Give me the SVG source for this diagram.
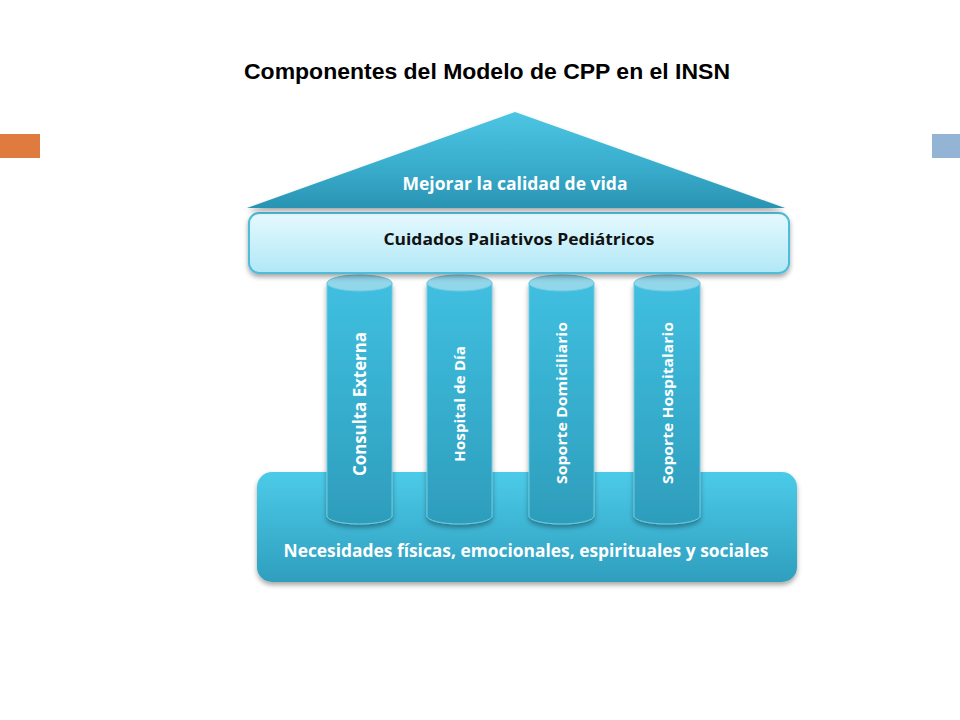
<svg xmlns="http://www.w3.org/2000/svg" width="960" height="720" viewBox="0 0 960 720">
<defs>
<linearGradient id="roofG" x1="0" y1="0" x2="0" y2="1">
<stop offset="0" stop-color="#4cc6e3"/><stop offset="0.6" stop-color="#38abcb"/><stop offset="1" stop-color="#2a93b2"/>
</linearGradient>
<linearGradient id="bandG" x1="0" y1="0" x2="0" y2="1">
<stop offset="0" stop-color="#e6f9fe"/><stop offset="1" stop-color="#b0e8f6"/>
</linearGradient>
<linearGradient id="pillG" x1="0" y1="0" x2="0" y2="1">
<stop offset="0" stop-color="#40bfe0"/><stop offset="1" stop-color="#2e9dbc"/>
</linearGradient>
<linearGradient id="baseG" x1="0" y1="0" x2="0" y2="1">
<stop offset="0" stop-color="#4ccbe9"/><stop offset="1" stop-color="#2f9ebe"/>
</linearGradient>
<filter id="sh" x="-10%" y="-10%" width="120%" height="130%">
<feDropShadow dx="0" dy="3" stdDeviation="2.5" flood-color="#000" flood-opacity="0.35"/>
</filter>
</defs>
<style>
.t{font-family:"Liberation Sans",Arial,sans-serif;font-weight:bold;}
.w{font-family:"Open Sans","Liberation Sans",sans-serif;font-weight:bold;fill:#ffffff;}
.k{font-family:"Open Sans","Liberation Sans",sans-serif;font-weight:bold;fill:#111111;}
.pill{fill:url(#pillG);stroke:#6fcbe2;stroke-width:1;}
.cap{fill:#92d6ea;stroke:#6fcbe2;stroke-width:1;}
</style>
<rect width="960" height="720" fill="#ffffff"/>
<rect x="0" y="134" width="40" height="24" fill="#e07b40"/>
<rect x="932" y="134" width="28" height="24" fill="#93b4d4"/>
<text class="t" x="487" y="79" font-size="22.5" text-anchor="middle" fill="#000" textLength="486" lengthAdjust="spacingAndGlyphs">Componentes del Modelo de CPP en el INSN</text>

<g id="base">
<rect x="257" y="472" width="540" height="110" rx="15" fill="url(#baseG)" filter="url(#sh)"/>
<text class="w" x="526" y="557" font-size="17.5" text-anchor="middle" textLength="485" lengthAdjust="spacingAndGlyphs">Necesidades físicas, emocionales, espirituales y sociales</text>
</g>

<g id="pillar1">
<path class="pill" d="M327,283 V516 A32.5,8 0 0 0 392,516 V283 Z" filter="url(#sh)"/>
<ellipse class="cap" cx="359.5" cy="283" rx="32.5" ry="8"/>
<text class="w" font-size="17" text-anchor="middle" transform="translate(359.5,404) rotate(-90)" y="6" textLength="144" lengthAdjust="spacingAndGlyphs">Consulta Externa</text>
</g>
<g id="pillar2">
<path class="pill" d="M427,283 V516 A32.5,8 0 0 0 492,516 V283 Z" filter="url(#sh)"/>
<ellipse class="cap" cx="459.5" cy="283" rx="32.5" ry="8"/>
<text class="w" font-size="15" text-anchor="middle" transform="translate(459.5,404) rotate(-90)" y="5.5" textLength="116" lengthAdjust="spacingAndGlyphs">Hospital de Día</text>
</g>
<g id="pillar3">
<path class="pill" d="M529,283 V516 A32.5,8 0 0 0 594,516 V283 Z" filter="url(#sh)"/>
<ellipse class="cap" cx="561.5" cy="283" rx="32.5" ry="8"/>
<text class="w" font-size="15" text-anchor="middle" transform="translate(561.5,403) rotate(-90)" y="5.5" textLength="162" lengthAdjust="spacingAndGlyphs">Soporte Domiciliario</text>
</g>
<g id="pillar4">
<path class="pill" d="M634,283 V516 A33,8 0 0 0 700,516 V283 Z" filter="url(#sh)"/>
<ellipse class="cap" cx="667" cy="283" rx="33" ry="8"/>
<text class="w" font-size="15" text-anchor="middle" transform="translate(667,403) rotate(-90)" y="5.5" textLength="162" lengthAdjust="spacingAndGlyphs">Soporte Hospitalario</text>
</g>

<g id="band">
<rect x="249" y="213" width="540" height="60" rx="10" fill="url(#bandG)" stroke="#4fbcd9" stroke-width="2" filter="url(#sh)"/>
<text class="k" x="519" y="245" font-size="15.5" text-anchor="middle" textLength="271" lengthAdjust="spacingAndGlyphs">Cuidados Paliativos Pediátricos</text>
</g>

<g id="roof">
<polygon points="515,112 785,208 247,208" fill="url(#roofG)" filter="url(#sh)"/>
<text class="w" x="515" y="190" font-size="17" text-anchor="middle" textLength="225" lengthAdjust="spacingAndGlyphs">Mejorar la calidad de vida</text>
</g>
<g id="connectors"/>
</svg>
